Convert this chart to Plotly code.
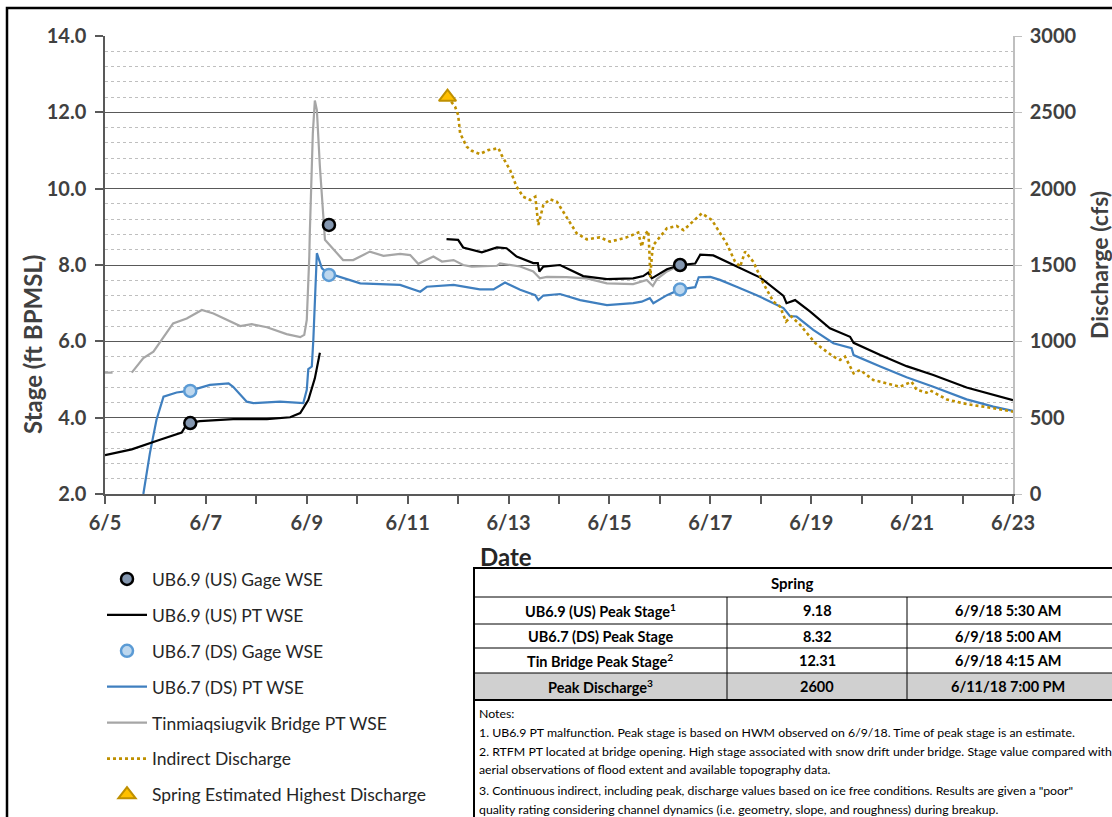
import plotly.graph_objects as go

# --- data (x = day of June 2018) ---
us_pt_t = [5.00, 5.53, 6.09, 6.52, 6.63, 6.88, 7.54, 8.21, 8.67, 8.87,
           9.03, 9.16, 9.26, None, 11.77, 12.00, 12.10, 12.47, 12.77, 12.96,
           13.16, 13.49, 13.58, 13.61, 13.69, 14.02, 14.48, 14.95, 15.47, 15.67,
           15.77, 15.84, 16.14, 16.40, 16.70, 16.80, 17.06, 17.46, 17.59, 17.99,
           18.45, 18.51, 18.68, 18.98, 19.37, 19.77, 19.84, 20.37, 20.89, 21.42,
           22.08, 22.61, 23.00]
us_pt_v = [3.02, 3.17, 3.42, 3.61, 3.85, 3.91, 3.96, 3.96, 4.01, 4.12,
           4.46, 5.03, 5.70, None, 8.68, 8.66, 8.46, 8.33, 8.46, 8.44,
           8.22, 8.05, 8.05, 7.83, 7.96, 8.00, 7.71, 7.63, 7.65, 7.71,
           7.80, 7.65, 7.89, 8.00, 8.04, 8.27, 8.25, 8.00, 7.91, 7.67,
           7.19, 7.00, 7.08, 6.78, 6.34, 6.12, 5.96, 5.64, 5.35, 5.12,
           4.79, 4.61, 4.46]

ds_pt_t = [5.76, 5.89, 6.02, 6.16, 6.42, 6.69, 7.08, 7.45, 7.54, 7.81,
           7.94, 8.47, 8.93, 9.00, 9.03, 9.10, 9.13, 9.20, 9.30, 9.46,
           9.53, 10.06, 10.85, 11.25, 11.38, 11.91, 12.43, 12.70, 12.93, 13.23,
           13.53, 13.59, 13.69, 14.02, 14.42, 14.95, 15.47, 15.64, 15.80, 15.87,
           16.14, 16.40, 16.70, 16.77, 17.00, 17.19, 17.52, 17.92, 18.25, 18.45,
           18.58, 18.71, 19.04, 19.44, 19.80, 19.84, 20.37, 20.89, 21.42, 22.08,
           22.61, 23.00]
ds_pt_v = [2.00, 3.07, 3.94, 4.55, 4.66, 4.71, 4.86, 4.90, 4.81, 4.42,
           4.38, 4.42, 4.38, 4.73, 5.27, 5.34, 6.04, 8.31, 7.91, 7.74,
           7.74, 7.52, 7.48, 7.30, 7.43, 7.48, 7.36, 7.36, 7.54, 7.35,
           7.21, 7.08, 7.20, 7.24, 7.08, 6.95, 7.00, 7.04, 7.13, 7.00,
           7.21, 7.36, 7.42, 7.68, 7.69, 7.61, 7.43, 7.21, 7.00, 6.87,
           6.66, 6.65, 6.30, 5.95, 5.82, 5.64, 5.34, 5.06, 4.81, 4.48,
           4.29, 4.18]

bridge_t = [5.00, 5.15, None, 5.53, 5.76, 5.96, 6.16, 6.35, 6.62, 6.92,
            7.15, 7.41, 7.68, 7.91, 8.21, 8.60, 8.87, 8.95, 9.00, 9.05,
            9.06, 9.12, 9.16, 9.20, 9.26, 9.36, 9.72, 9.92, 10.25, 10.52,
            10.85, 11.05, 11.21, 11.51, 11.68, 11.91, 12.10, 12.27, 12.77, 12.83,
            13.23, 13.49, 13.62, 13.76, 14.15, 14.55, 14.95, 15.47, 15.74, 15.86,
            15.94, 16.14, 16.34]
bridge_v = [5.18, 5.18, None, 5.18, 5.56, 5.73, 6.12, 6.47, 6.60, 6.82,
            6.73, 6.56, 6.40, 6.45, 6.37, 6.19, 6.11, 6.17, 6.56, 8.22,
            8.83, 11.45, 12.31, 12.06, 10.58, 8.66, 8.13, 8.13, 8.35, 8.24,
            8.29, 8.26, 8.03, 8.22, 8.09, 8.13, 8.00, 7.96, 7.98, 8.04,
            7.96, 7.83, 7.65, 7.69, 7.68, 7.65, 7.52, 7.50, 7.61, 7.45,
            7.63, 7.83, 7.96]

q_t = [11.79, 11.94, 12.00, 12.04, 12.17, 12.27, 12.43, 12.60, 12.80, 12.86,
       13.03, 13.16, 13.29, 13.43, 13.53, 13.56, 13.59, 13.69, 13.82, 13.96,
       14.15, 14.35, 14.55, 14.81, 15.01, 15.34, 15.57, 15.64, 15.70, 15.77,
       15.79, 15.81, 15.84, 15.87, 16.14, 16.33, 16.47, 16.66, 16.83, 17.03,
       17.19, 17.32, 17.49, 17.59, 17.69, 17.85, 18.05, 18.25, 18.38, 18.50,
       18.61, 18.78, 19.08, 19.44, 19.57, 19.67, 19.84, 19.97, 20.23, 20.76,
       20.99, 21.09, 21.29, 21.36, 21.69, 22.08, 22.61, 23.00]
q_v = [2600, 2537, 2483, 2363, 2275, 2248, 2227, 2253, 2265, 2221,
       2122, 2013, 1947, 1926, 1947, 1838, 1762, 1893, 1930, 1914,
       1817, 1708, 1668, 1681, 1653, 1681, 1712, 1620, 1700, 1725,
       1600, 1420, 1560, 1630, 1741, 1756, 1729, 1786, 1838, 1795,
       1708, 1642, 1522, 1489, 1588, 1522, 1380, 1260, 1228, 1130,
       1162, 1108, 988, 900, 878, 900, 791, 812, 747, 703,
       735, 682, 664, 678, 619, 589, 562, 539]

us_gage_t = [6.69, 9.44, 16.40]
us_gage_v = [3.86, 9.05, 8.00]
ds_gage_t = [6.69, 9.44, 16.40]
ds_gage_v = [4.70, 7.74, 7.36]
peak_t = [11.79]
peak_q = [2600]

x_ticks = [5, 7, 9, 11, 13, 15, 17, 19, 21, 23]
x_labels = ["6/5", "6/7", "6/9", "6/11", "6/13", "6/15", "6/17", "6/19", "6/21", "6/23"]

table_rows = [
    ["UB6.9 (US) Peak Stage<sup>1</sup>", "9.18", "6/9/18 5:30 AM"],
    ["UB6.7 (DS) Peak Stage", "8.32", "6/9/18 5:00 AM"],
    ["Tin Bridge Peak Stage<sup>2</sup>", "12.31", "6/9/18 4:15 AM"],
    ["Peak Discharge<sup>3</sup>", "2600", "6/11/18 7:00 PM"],
]
notes = [
    "Notes:",
    "1. UB6.9 PT malfunction. Peak stage is based on HWM observed on 6/9/18. Time of peak stage is an estimate.",
    "2. RTFM PT located at bridge opening. High stage associated with snow drift under bridge. Stage value compared with",
    "aerial observations of flood extent and available topography data.",
    "3. Continuous indirect, including peak, discharge values based on ice free conditions. Results are given a \"poor\"",
    "quality rating considering channel dynamics (i.e. geometry, slope, and roughness) during breakup.",
]

# --- pixel helpers for the plot frame ---
W, H = 1112, 817
PL, PR, PT, PB = 105, 1013, 36, 494
def fx(x):
    return (x - PL) / (PR - PL)
def fy(y):
    return (PB - y) / (PB - PT)

FONT = "Lato, Open Sans, sans-serif"
DARK = "#404040"

fig = go.Figure()
fig.add_trace(go.Scatter(x=bridge_t, y=bridge_v, mode="lines", name="Tinmiaqsiugvik Bridge PT WSE",
                         line=dict(color="#A6A6A6", width=2.2), legendrank=5, legendgroup="g5"))
fig.add_trace(go.Scatter(x=q_t, y=q_v, mode="lines", name="Indirect Discharge", yaxis="y2",
                         line=dict(color="#BF9000", width=2.6, dash="dot"), legendrank=6, legendgroup="g6"))
fig.add_trace(go.Scatter(x=ds_pt_t, y=ds_pt_v, mode="lines", name="UB6.7 (DS) PT WSE",
                         line=dict(color="#3F7FBF", width=2.2), legendrank=4, legendgroup="g4"))
fig.add_trace(go.Scatter(x=us_pt_t, y=us_pt_v, mode="lines", name="UB6.9 (US) PT WSE",
                         line=dict(color="#000000", width=2.2), legendrank=2, legendgroup="g2"))
fig.add_trace(go.Scatter(x=us_gage_t, y=us_gage_v, mode="markers", name="UB6.9 (US) Gage WSE",
                         marker=dict(size=12, color="#8497B0", line=dict(color="#000000", width=2.5)),
                         legendrank=1, legendgroup="g1"))
fig.add_trace(go.Scatter(x=ds_gage_t, y=ds_gage_v, mode="markers", name="UB6.7 (DS) Gage WSE",
                         marker=dict(size=12, color="#BDD7EE", line=dict(color="#5B9BD5", width=2.5)),
                         legendrank=3, legendgroup="g3"))
fig.add_trace(go.Scatter(x=peak_t, y=peak_q, mode="markers", name="Spring Estimated Highest Discharge", yaxis="y2",
                         marker=dict(size=15, symbol="triangle-up", color="#FFC000", line=dict(color="#BF9000", width=2)),
                         legendrank=7, legendgroup="g7"))

shapes = []
# outer chart border
shapes.append(dict(type="rect", xref="paper", yref="paper", x0=fx(7), x1=fx(1130), y0=fy(8), y1=fy(840),
                   line=dict(color="black", width=2.5), layer="below"))
# summary table
TL, TR = 474, 1120
row_y = [568, 597, 624, 648, 673, 700]
shapes.append(dict(type="rect", xref="paper", yref="paper", x0=fx(TL), x1=fx(TR), y0=fy(673), y1=fy(700),
                   fillcolor="#D0D0D0", line=dict(width=0), layer="below"))
for y in row_y[1:-1]:
    shapes.append(dict(type="line", xref="paper", yref="paper", x0=fx(TL), x1=fx(TR), y0=fy(y), y1=fy(y),
                       line=dict(color="black", width=1)))
for x in [727, 907]:
    shapes.append(dict(type="line", xref="paper", yref="paper", x0=fx(x), x1=fx(x), y0=fy(597), y1=fy(700),
                       line=dict(color="black", width=1)))
shapes.append(dict(type="rect", xref="paper", yref="paper", x0=fx(TL), x1=fx(TR), y0=fy(568), y1=fy(700),
                   line=dict(color="black", width=2)))
shapes.append(dict(type="rect", xref="paper", yref="paper", x0=fx(TL), x1=fx(TR), y0=fy(700), y1=fy(830),
                   line=dict(color="black", width=2)))

annotations = [
    dict(text="Stage (ft BPMSL)", x=fx(32), y=fy(345), textangle=-90,
         font=dict(size=24, color=DARK, family=FONT, weight="bold")),
    dict(text="Discharge (cfs)", x=fx(1099), y=fy(265), textangle=-90,
         font=dict(size=23, color=DARK, family=FONT, weight="bold")),
    dict(text="Date", x=fx(506), y=fy(556),
         font=dict(size=24, color="#262626", family=FONT, weight="bold")),
    dict(text="Spring", x=fx((TL + 1110) / 2), y=fy(583),
         font=dict(size=15, color="black", family=FONT, weight="bold")),
]
col_x = [600, 817, 1008]
for i, row in enumerate(table_rows):
    yc = (row_y[i + 1] + row_y[i + 2]) / 2
    for j, cell in enumerate(row):
        annotations.append(dict(text=cell, x=fx(col_x[j]), y=fy(yc),
                                font=dict(size=14.5, color="black", family=FONT, weight="bold")))
for a in annotations:
    a.update(xanchor="center", yanchor="middle")
note_y = [713, 732, 751, 770, 790, 809]
for txt, y in zip(notes, note_y):
    annotations.append(dict(text=txt, x=fx(477), y=fy(y), xanchor="left", yanchor="middle",
                            font=dict(size=12.3, color="black", family=FONT)))
for a in annotations:
    a.update(xref="paper", yref="paper", showarrow=False)

tick_font = dict(size=20, color=DARK, family=FONT, weight="bold")
fig.update_layout(
    width=W, height=H,
    margin=dict(l=PL, r=W - PR, t=PT, b=H - PB),
    paper_bgcolor="white", plot_bgcolor="white",
    showlegend=True,
    legend=dict(x=fx(102), xref="paper", y=1 - 561 / H, yref="container",
                xanchor="left", yanchor="top",
                font=dict(size=17.5, color="#262626", family=FONT),
                traceorder="grouped", tracegroupgap=10.2, itemwidth=40,
                bgcolor="rgba(0,0,0,0)"),
    xaxis=dict(range=[5, 23], tickvals=x_ticks, ticktext=x_labels, ticks="outside", ticklen=8,
               tickcolor="#595959", tickwidth=1.5, showline=True, linecolor="#595959", linewidth=1.5,
               showgrid=False, zeroline=False, tickfont=tick_font, ticklabelstandoff=2,
               minor=dict(tick0=5, dtick=1, ticks="outside", ticklen=8, tickcolor="#595959", tickwidth=1.5,
                          showgrid=False)),
    yaxis=dict(range=[2, 14], dtick=2, tickformat=".1f", ticks="outside", ticklen=8,
               tickcolor="#595959", tickwidth=1.5, showline=True, linecolor="#595959", linewidth=1.5,
               gridcolor="#595959", gridwidth=1.3, zeroline=False, tickfont=tick_font, ticklabelstandoff=5,
               minor=dict(dtick=0.4, showgrid=True, gridcolor="#BFBFBF", griddash="dot", gridwidth=1)),
    yaxis2=dict(range=[0, 3000], dtick=500, overlaying="y", side="right", ticks="outside", ticklen=7,
                tickcolor="#BFBFBF", showline=True, linecolor="#BFBFBF", linewidth=1.5,
                showgrid=False, zeroline=False, tickfont=tick_font, ticklabelstandoff=4),
    shapes=shapes,
    annotations=annotations,
)

# the page body gets no default margin so the figure lines up with the window
fig.write_html("out.html", config={"displayModeBar": False},
               post_script="document.body.style.margin='0';")
